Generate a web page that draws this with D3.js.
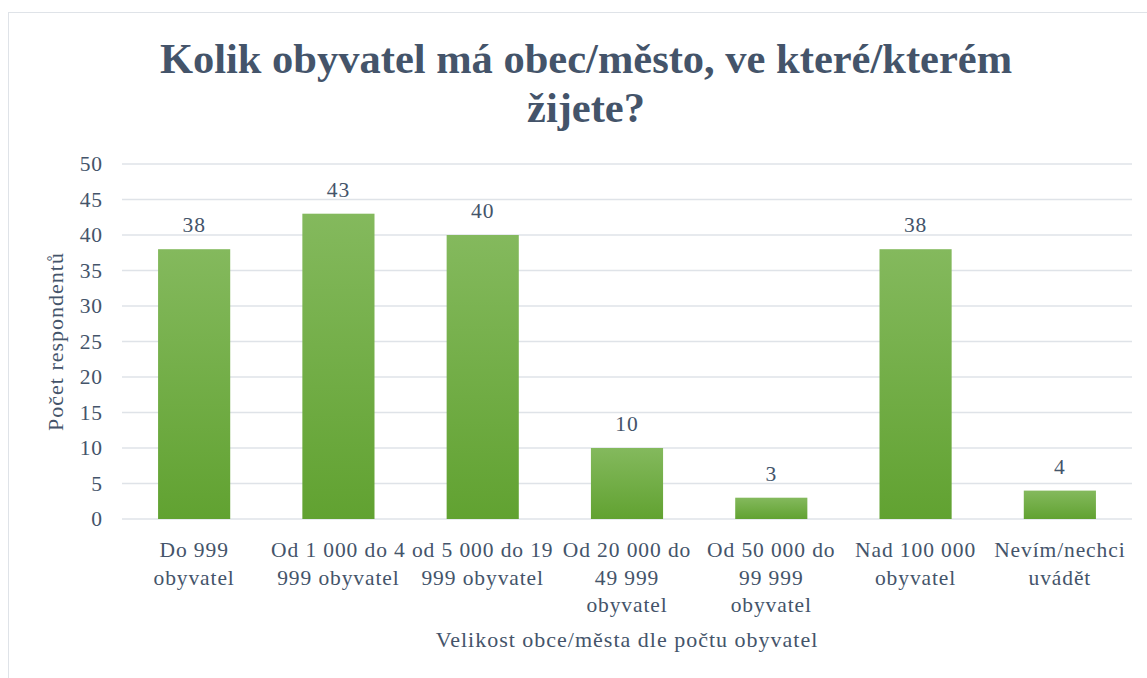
<!DOCTYPE html>
<meta charset='utf-8'>
<style>
  svg text { font-family: 'Liberation Serif', 'Times New Roman', serif; }
  svg text.small { letter-spacing: 0.9px; }
  svg text.axtitle { letter-spacing: 1px; }
</style>
<body style='margin:0;background:#fff'>
<script src='https://d3js.org/d3.v7.min.js'></script>
<script>
  const categories = [
    ['Do 999', 'obyvatel'],
    ['Od 1 000 do 4', '999 obyvatel'],
    ['od 5 000 do 19', '999 obyvatel'],
    ['Od 20 000 do', '49 999', 'obyvatel'],
    ['Od 50 000 do', '99 999', 'obyvatel'],
    ['Nad 100 000', 'obyvatel'],
    ['Nevím/nechci', 'uvádět']
  ];
  const values = [38, 43, 40, 10, 3, 38, 4];
  const yTicks = [0, 5, 10, 15, 20, 25, 30, 35, 40, 45, 50];
  const titleLines = ['Kolik obyvatel má obec/město, ve které/kterém', 'žijete?'];
  const xTitle = 'Velikost obce/města dle počtu obyvatel';
  const yTitle = 'Počet respondentů';

  const W = 1147, H = 678;
  const margin = { top: 164, right: 15, bottom: 159, left: 122 };
  const width = W - margin.left - margin.right;
  const height = H - margin.top - margin.bottom;
  const textColor = '#44546a';

  const svg = d3.select('body').append('svg')
    .attr('width', W)
    .attr('height', H);

  const defs = svg.append('defs');
  const grad = defs.append('linearGradient')
    .attr('id', 'barGrad')
    .attr('x1', '0').attr('x2', '0')
    .attr('y1', '0').attr('y2', '1');
  grad.append('stop').attr('offset', '0%').attr('stop-color', '#84b95d');
  grad.append('stop').attr('offset', '100%').attr('stop-color', '#61a231');

  // chart border
  svg.append('rect')
    .attr('x', 8.5).attr('y', 12.5)
    .attr('width', W + 20).attr('height', H + 20)
    .attr('fill', 'none')
    .attr('stroke', '#dfe3e8')
    .attr('stroke-width', 1);

  // title
  svg.append('text')
    .attr('x', 586)
    .attr('y', 73)
    .attr('text-anchor', 'middle')
    .style('font-size', '42.5px')
    .style('font-weight', 'bold')
    .attr('fill', textColor)
    .selectAll('tspan')
    .data(titleLines)
    .join('tspan')
      .attr('x', 586)
      .attr('dy', (d, i) => i ? 49 : 0)
      .text(d => d);

  const g = svg.append('g')
    .attr('transform', `translate(${margin.left}, ${margin.top})`);

  const x = d3.scaleBand()
    .domain(d3.range(categories.length))
    .range([0, width])
    .paddingInner(0.5)
    .paddingOuter(0.25);

  const y = d3.scaleLinear()
    .domain([0, 50])
    .range([height, 0]);

  // gridlines
  g.append('g')
    .selectAll('line')
    .data(yTicks)
    .join('line')
      .attr('x1', 0).attr('x2', width)
      .attr('y1', d => y(d)).attr('y2', d => y(d))
      .attr('stroke', '#dfe3e8')
      .attr('stroke-width', 1.5);

  // y axis labels
  const yAxis = g.append('g')
    .call(d3.axisLeft(y).tickValues(yTicks).tickSize(0).tickPadding(19));
  yAxis.select('.domain').remove();
  yAxis.selectAll('text')
    .attr('class', 'small')
    .style('font-size', '21.5px')
    .attr('fill', textColor);

  // bars
  g.selectAll('rect.bar')
    .data(values)
    .join('rect')
      .attr('class', 'bar')
      .attr('x', (d, i) => x(i))
      .attr('y', d => y(d))
      .attr('width', x.bandwidth())
      .attr('height', d => height - y(d))
      .attr('fill', 'url(#barGrad)');

  // data labels
  g.selectAll('text.val')
    .data(values)
    .join('text')
      .attr('class', 'val small')
      .attr('x', (d, i) => x(i) + x.bandwidth() / 2)
      .attr('y', d => y(d) - 17)
      .attr('text-anchor', 'middle')
      .style('font-size', '21.5px')
      .attr('fill', textColor)
      .text(d => d);

  // x category labels
  g.selectAll('text.cat')
    .data(categories)
    .join('text')
      .attr('class', 'cat small')
      .attr('text-anchor', 'middle')
      .attr('y', height + 38)
      .style('font-size', '21.5px')
      .attr('fill', textColor)
      .each(function(lines, i) {
        const cx = x(i) + x.bandwidth() / 2;
        d3.select(this).selectAll('tspan')
          .data(lines)
          .join('tspan')
            .attr('x', cx)
            .attr('dy', (d, j) => j ? 27.5 : 0)
            .text(d => d);
      });

  // axis titles
  g.append('text')
    .attr('class', 'axtitle')
    .attr('x', width / 2)
    .attr('y', height + 128)
    .attr('text-anchor', 'middle')
    .style('font-size', '22px')
    .attr('fill', textColor)
    .text(xTitle);

  svg.append('text')
    .attr('class', 'axtitle')
    .attr('transform', `translate(63, ${margin.top + height / 2}) rotate(-90)`)
    .attr('text-anchor', 'middle')
    .style('font-size', '22px')
    .attr('fill', textColor)
    .text(yTitle);
</script>
